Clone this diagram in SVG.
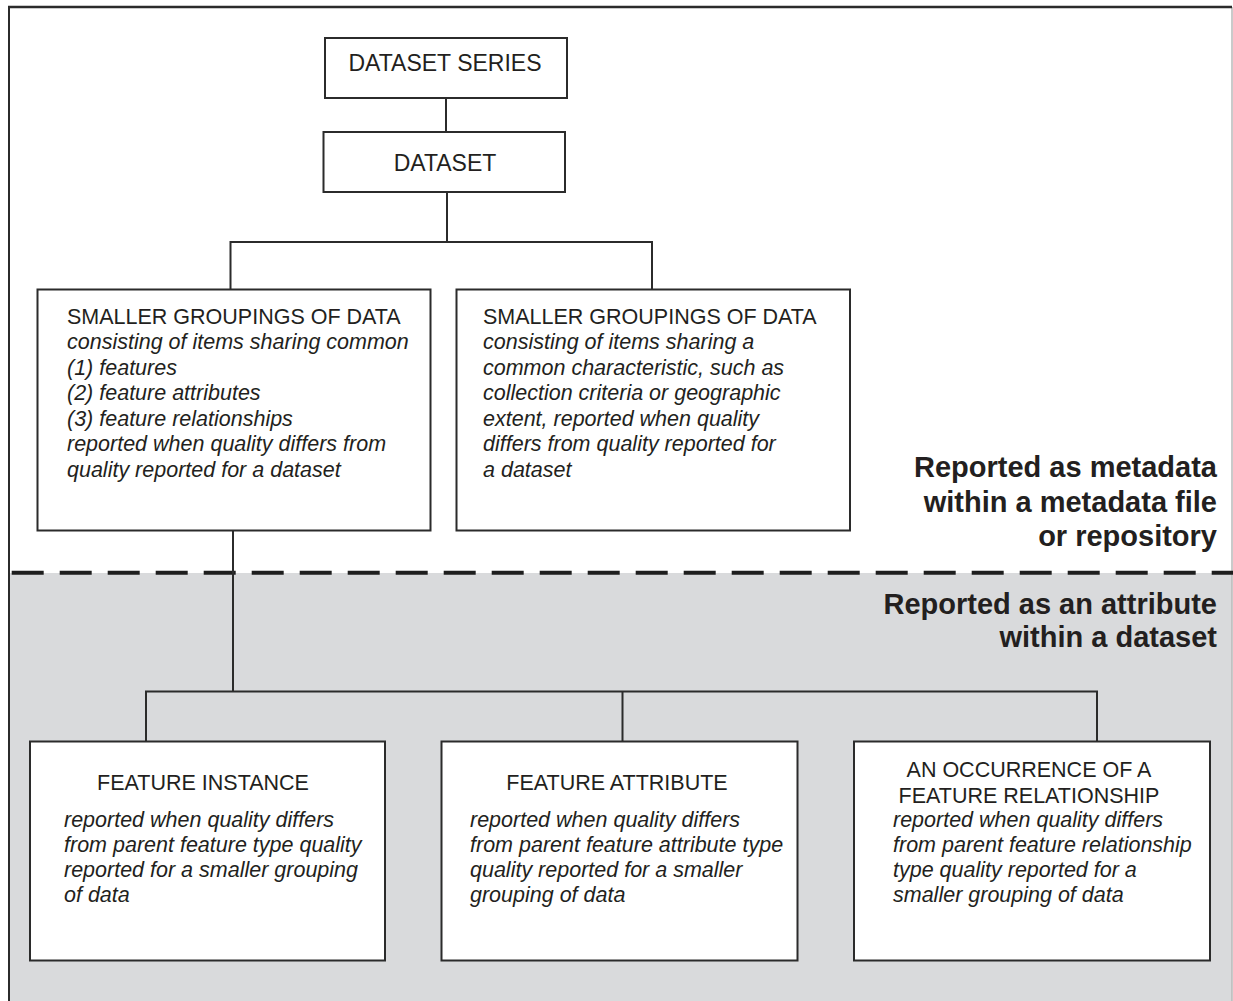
<svg xmlns="http://www.w3.org/2000/svg" width="1233" height="1001" viewBox="0 0 1233 1001">
<style>
.box{fill:#fff;stroke:#2b2b2b;stroke-width:2}
.cn{fill:none;stroke:#2b2b2b;stroke-width:2}
text{font-family:"Liberation Sans",Arial,sans-serif;fill:#231f20}
.h{font-size:21.5px}
.t{font-size:23px}
.i{font-size:21.5px;font-style:italic}
.b{font-size:29px;font-weight:bold;text-anchor:end}
.m{text-anchor:middle}
</style>
<rect x="0" y="0" width="1233" height="1001" fill="#fff"/>
<g id="background">
<rect x="8" y="573" width="1224" height="430" fill="#d9dadc"/>
<line x1="1232" y1="7" x2="1232" y2="1001" stroke="#b8b8b8" stroke-width="1.5"/>
<line x1="8" y1="7" x2="1232" y2="7" stroke="#2b2b2b" stroke-width="2.5"/>
<line x1="9" y1="6" x2="9" y2="1001" stroke="#2b2b2b" stroke-width="2"/>
<line x1="11.7" y1="572.7" x2="1233" y2="572.7" stroke="#1e1e1e" stroke-width="4" stroke-dasharray="32 16"/>
</g>
<g id="connectors">
<line class="cn" x1="446" y1="98" x2="446" y2="132"/>
<path class="cn" d="M447 192 V242 M230.5 290 V242 H652 V290"/>
<path class="cn" d="M233 531 V691.5 M146 741 V691.5 H1097 V741 M622.5 691.5 V741"/>
</g>
<g id="dataset-series">
<rect class="box" x="325" y="38" width="242" height="60"/>
<text class="t m" x="445" y="71">DATASET SERIES</text>
</g>
<g id="dataset">
<rect class="box" x="323.5" y="132" width="241.5" height="60"/>
<text class="t m" x="445" y="171">DATASET</text>
</g>
<g id="smaller-groupings-1">
<rect class="box" x="37.5" y="289.5" width="393" height="241"/>
<text class="h" x="67" y="323.5">SMALLER GROUPINGS OF DATA</text>
<text class="i" x="67" y="349">consisting of items sharing common</text>
<text class="i" x="67" y="374.5">(1) features</text>
<text class="i" x="67" y="400">(2) feature attributes</text>
<text class="i" x="67" y="425.5">(3) feature relationships</text>
<text class="i" x="67" y="451">reported when quality differs from</text>
<text class="i" x="67" y="476.5">quality reported for a dataset</text>
</g>
<g id="smaller-groupings-2">
<rect class="box" x="456.5" y="289.5" width="393.5" height="241"/>
<text class="h" x="483" y="323.5">SMALLER GROUPINGS OF DATA</text>
<text class="i" x="483" y="349">consisting of items sharing a</text>
<text class="i" x="483" y="374.5">common characteristic, such as</text>
<text class="i" x="483" y="400">collection criteria or geographic</text>
<text class="i" x="483" y="425.5">extent, reported when quality</text>
<text class="i" x="483" y="451">differs from quality reported for</text>
<text class="i" x="483" y="476.5">a dataset</text>
</g>
<g id="label-metadata">
<text class="b" x="1217" y="477">Reported as metadata</text>
<text class="b" x="1217" y="511.5">within a metadata file</text>
<text class="b" x="1217" y="546">or repository</text>
</g>
<g id="label-attribute">
<text class="b" x="1217" y="614">Reported as an attribute</text>
<text class="b" x="1217" y="647">within a dataset</text>
</g>
<g id="feature-instance">
<rect class="box" x="30" y="741.5" width="355" height="219"/>
<text class="h m" x="203" y="790">FEATURE INSTANCE</text>
<text class="i" x="64" y="826.7">reported when quality differs</text>
<text class="i" x="64" y="851.7">from parent feature type quality</text>
<text class="i" x="64" y="876.7">reported for a smaller grouping</text>
<text class="i" x="64" y="901.7">of data</text>
</g>
<g id="feature-attribute">
<rect class="box" x="441.5" y="741.5" width="356" height="219"/>
<text class="h m" x="617" y="790">FEATURE ATTRIBUTE</text>
<text class="i" x="470" y="826.7">reported when quality differs</text>
<text class="i" x="470" y="851.7">from parent feature attribute type</text>
<text class="i" x="470" y="876.7">quality reported for a smaller</text>
<text class="i" x="470" y="901.7">grouping of data</text>
</g>
<g id="feature-relationship">
<rect class="box" x="854" y="741.5" width="356" height="219"/>
<text class="h m" x="1029" y="777.3">AN OCCURRENCE OF A</text>
<text class="h m" x="1029" y="802.7">FEATURE RELATIONSHIP</text>
<text class="i" x="893" y="826.7">reported when quality differs</text>
<text class="i" x="893" y="851.7">from parent feature relationship</text>
<text class="i" x="893" y="876.7">type quality reported for a</text>
<text class="i" x="893" y="901.7">smaller grouping of data</text>
</g>
</svg>
